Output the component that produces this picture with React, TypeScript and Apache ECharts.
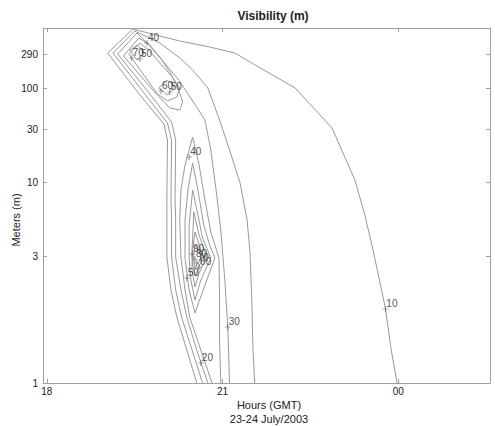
import React, { useEffect, useRef } from "react";
import * as echarts from "echarts";

// X: hours (GMT) after 18:00 on 23 July (24 = 00:00 on 24 July)
// Y: height level on the chart's transformed height scale
const xTicks = [18, 21, 24];
const yTickLevels = [0, 12.7, 20.1, 25.35, 29.47, 32.87];
const yTickLabels = ["1", "3", "10", "30", "100", "290"];

const contour10 = [
  [20.56, 0], [20.39, 3.3], [20.22, 6.6], [20.12, 9.3], [20.05, 12.6], [20.05, 16.3], [20.05, 18.3],
  [20.06, 24.3], [20.0, 25.9], [19.59, 28.8], [19.04, 33.0], [19.47, 35.4], [19.93, 34.7], [20.27, 34.2],
  [20.78, 33.6], [21.21, 33.0], [21.47, 32.1], [22.24, 29.5], [22.87, 25.5], [23.26, 20.3], [23.43, 16.8],
  [23.57, 13.3], [23.78, 7.5], [23.88, 3.3], [23.98, 0],
];
const contour20 = [
  [20.66, 0], [20.48, 3.3], [20.3, 6.6], [20.2, 9.3], [20.13, 12.6], [20.13, 16.3], [20.12, 18.3],
  [20.13, 24.3], [20.06, 26.0], [19.66, 29.0], [19.13, 33.0], [19.5, 35.2], [19.93, 34.0], [20.27, 32.5],
  [20.49, 31.3], [20.75, 29.5], [20.95, 26.3], [21.12, 23.3], [21.3, 20.0], [21.42, 16.3], [21.47, 13.0],
  [21.5, 8.3], [21.52, 3.3], [21.55, 0],
];
const contour30 = [
  [20.75, 0], [20.56, 3.3], [20.39, 6.6], [20.29, 9.3], [20.2, 12.6], [20.2, 16.3], [20.19, 18.3],
  [20.2, 24.3], [20.13, 26.1], [19.72, 29.2], [19.21, 32.9], [19.54, 35.0], [19.76, 33.7], [19.98, 32.2],
  [20.24, 30.4], [20.48, 28.3], [20.7, 26.3], [20.8, 23.3], [20.89, 19.3], [20.97, 15.3], [21.04, 10.3],
  [21.09, 5.6], [21.12, 0],
];
const contour40 = [
  [20.82, 0], [20.63, 3.3], [20.44, 6.6], [20.36, 9.3], [20.29, 12.6], [20.27, 16.3], [20.29, 19.3],
  [20.36, 21.8], [20.49, 24.6], [20.6, 21.8], [20.7, 18.3], [20.8, 15.1], [20.94, 12.5], [20.95, 8.3],
  [20.95, 4.3], [20.97, 0],
];
const contour50 = [
  [20.49, 22.0], [20.58, 19.3], [20.68, 15.8], [20.78, 13.8], [20.87, 12.5], [20.7, 9.8], [20.53, 7.0],
  [20.43, 9.3], [20.36, 12.5], [20.36, 16.3], [20.41, 19.3], [20.49, 22.0],
];
const contour60 = [
  [20.49, 19.3], [20.58, 16.8], [20.66, 14.5], [20.8, 12.5], [20.63, 10.3], [20.53, 8.3], [20.46, 10.3],
  [20.43, 12.5], [20.43, 15.8], [20.49, 19.3],
];
const contour70 = [
  [20.51, 17.1], [20.6, 14.8], [20.73, 12.6], [20.6, 11.0], [20.53, 9.6], [20.48, 11.3], [20.48, 13.3], [20.51, 17.1],
];
const contour80 = [
  [20.53, 15.1], [20.61, 13.7], [20.68, 12.5], [20.6, 11.7], [20.54, 10.7], [20.49, 11.8], [20.49, 13.3], [20.53, 15.1],
];
const contour90 = [
  [20.54, 13.8], [20.61, 13.1], [20.63, 12.5], [20.58, 12.0], [20.53, 11.5], [20.51, 12.1], [20.51, 13.1], [20.54, 13.8],
];
const upper40 = [
  [19.31, 32.7], [19.57, 34.5], [19.76, 33.8], [19.93, 32.6], [20.1, 31.1], [20.24, 29.5], [20.32, 28.1],
  [20.27, 27.3], [20.1, 27.5], [19.84, 29.1], [19.31, 32.7],
];
const upper50 = [
  [19.4, 32.9], [19.59, 34.0], [19.76, 33.2], [19.93, 32.0], [20.13, 30.7], [20.27, 29.5], [20.22, 28.6],
  [20.06, 28.2], [19.89, 28.9], [19.67, 30.7], [19.4, 32.9],
];
const upper60 = [[19.91, 29.5], [20.05, 30.3], [20.19, 29.7], [20.06, 28.8], [19.91, 29.5]];
const upper70 = [[19.42, 33.3], [19.55, 33.8], [19.67, 33.0], [19.54, 32.3], [19.42, 33.3]];

const contours = [
  contour10, contour20, contour30, contour40, contour50, contour60, contour70, contour80, contour90,
  upper40, upper50, upper60, upper70,
];

const labelNames = ["10", "20", "30", "40", "50", "60", "70", "80", "90", "40", "70", "50", "60", "50"];
const labelPoints = [
  [23.78, 7.4], [20.63, 2.0], [21.09, 5.6], [20.43, 22.6], [20.39, 10.5], [20.6, 11.6], [20.56, 12.0],
  [20.53, 12.4], [20.48, 12.9], [19.71, 34.0], [19.45, 32.5], [19.59, 32.4], [19.95, 29.2], [20.1, 29.1],
];

const xTitleLines = ["Hours (GMT)", "23-24 July/2003"];

const FONT = "'Liberation Sans', Arial, Helvetica, sans-serif";
const TEXT = "#222";
const FRAME = "#a0a0a0";
const LINE = "#999999";

export default function App() {
  const ref = useRef<HTMLDivElement>(null);
  useEffect(() => {
    if (!ref.current) return;
    const chart = echarts.init(ref.current, null, { renderer: "svg" });
    const yFmt = (v: number) => {
      const i = yTickLevels.findIndex((t) => Math.abs(t - v) < 1e-6);
      return i >= 0 ? yTickLabels[i] : "";
    };
    const xFmt = (v: number) => String(Math.round(v) % 24).padStart(2, "0");
    const xBase = {
      type: "value",
      min: 17.935,
      max: 25.567,
      splitLine: { show: false },
      axisLine: { show: true, onZero: false, lineStyle: { color: FRAME, width: 1 } },
      axisTick: { show: true, inside: true, length: 4, customValues: xTicks, lineStyle: { color: FRAME } },
    };
    const yBase = {
      type: "value",
      min: 0,
      max: 35.5,
      splitLine: { show: false },
      axisLine: { show: true, onZero: false, lineStyle: { color: FRAME, width: 1 } },
      axisTick: { show: true, inside: true, length: 4, customValues: yTickLevels, lineStyle: { color: FRAME } },
    };
    const series: any[] = contours.map((c) => ({
      type: "line",
      data: c,
      showSymbol: false,
      symbol: "none",
      silent: true,
      lineStyle: { color: LINE, width: 1 },
      xAxisIndex: 0,
      yAxisIndex: 0,
    }));
    series.push({
      type: "scatter",
      xAxisIndex: 0,
      yAxisIndex: 0,
      colorBy: "series",
      color: "#444",
      symbol: "path://M4.4,0h1.2v10h-1.2z M0,4.4h10v1.2h-10z",
      symbolSize: 6,
      itemStyle: { color: "#444" },
      silent: true,
      z: 5,
      data: labelPoints.map((p, i) => ({ name: labelNames[i], value: p })),
      label: {
        show: true,
        formatter: "{b}",
        position: "right",
        distance: 0,
        offset: [-2, -6],
        color: TEXT,
        textBorderWidth: 0,
        fontSize: 10,
        fontFamily: FONT,
      },
    });
    chart.setOption({
      animation: false,
      backgroundColor: "#fff",
      title: {
        text: "Visibility (m)",
        left: 268,
        top: 5,
        textAlign: "center",
        textStyle: { fontSize: 12, fontWeight: "bold", color: TEXT, fontFamily: FONT },
      },
      grid: { left: 43, right: 5, top: 28, bottom: 43, containLabel: false, outerBoundsMode: "none" },
      xAxis: [
        {
          ...xBase,
          position: "bottom",
          axisLabel: { customValues: xTicks, formatter: xFmt, color: TEXT, fontSize: 10, margin: 3, fontFamily: FONT },
        },
        { ...xBase, position: "top", axisLabel: { show: false } },
      ],
      yAxis: [
        {
          ...yBase,
          position: "left",
          axisLabel: { customValues: yTickLevels, formatter: yFmt, color: TEXT, fontSize: 10, margin: 5, fontFamily: FONT },
        },
        { ...yBase, position: "right", axisLabel: { show: false } },
      ],
      graphic: [
        {
          type: "text",
          x: 16,
          y: 220,
          rotation: Math.PI / 2,
          style: {
            text: "Meters (m)",
            fill: TEXT,
            font: `11px ${FONT}`,
            textAlign: "center",
            textVerticalAlign: "middle",
          },
        },
        ...xTitleLines.map((t, i) => ({
          type: "text",
          x: 269,
          y: 405 + i * 14,
          style: {
            text: t,
            fill: TEXT,
            font: `11px ${FONT}`,
            textAlign: "center",
            textVerticalAlign: "middle",
          },
        })),
      ],
      series,
    });
    return () => chart.dispose();
  }, []);
  return (
    <div
      ref={ref}
      style={{ position: "fixed", left: 0, top: 0, width: 495, height: 426, background: "#fff" }}
    />
  );
}
